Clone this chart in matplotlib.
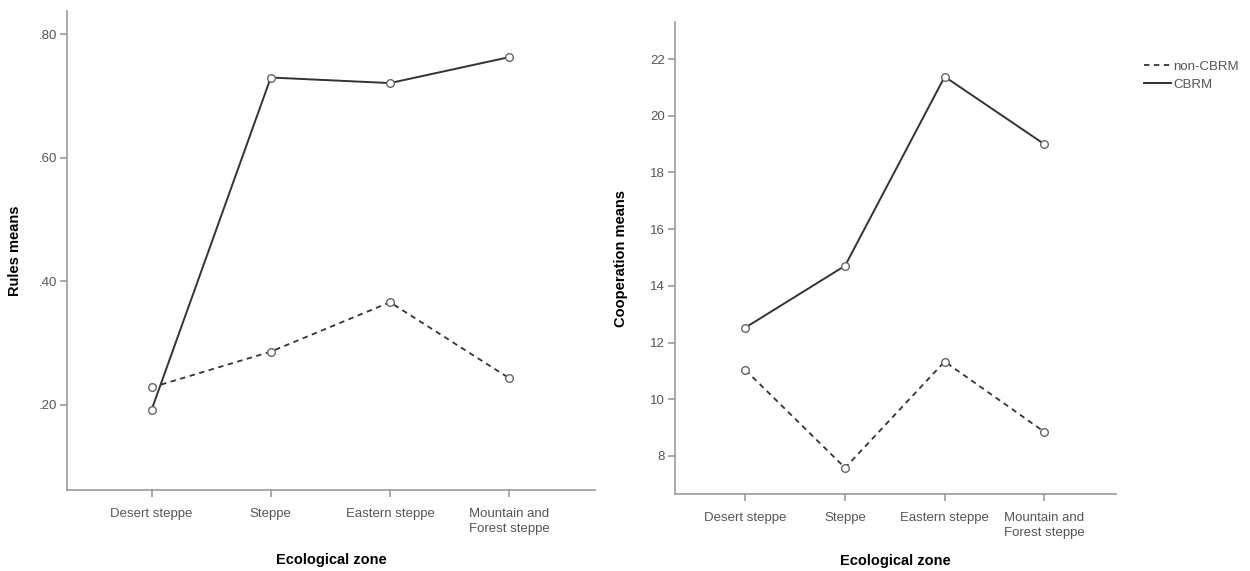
import matplotlib
matplotlib.use("Agg")
import matplotlib.pyplot as plt

# categories and values
zones = ["Desert steppe", "Steppe", "Eastern steppe", "Mountain and\nForest steppe"]
rules_cbrm = [0.192, 0.730, 0.721, 0.763]
rules_non = [0.228, 0.286, 0.366, 0.243]
coop_cbrm = [12.53, 14.71, 21.38, 19.00]
coop_non = [11.03, 7.58, 11.33, 8.85]

rules_ticks = [0.20, 0.40, 0.60, 0.80]
rules_ticklabels = [".20", ".40", ".60", ".80"]
coop_ticks = [8, 10, 12, 14, 16, 18, 20, 22]

plt.rcParams['font.family'] = ['Liberation Sans', 'DejaVu Sans']

fig = plt.figure(figsize=(12.5, 5.71), dpi=100)
ax1 = fig.add_axes([0.0536, 0.142, 0.4224, 0.839])
ax2 = fig.add_axes([0.5398, 0.135, 0.353, 0.826])

line_col = "#333333"
axis_col = "#999999"
x = list(range(len(zones)))


def style(ax, lpad):
    for s in ["top", "right"]:
        ax.spines[s].set_visible(False)
    for s in ["left", "bottom"]:
        ax.spines[s].set_color(axis_col)
        ax.spines[s].set_linewidth(1.2)
    ax.tick_params(axis="both", colors=axis_col, labelcolor="#555555",
                   labelsize=9.5, length=5, width=1.2)
    ax.tick_params(axis="x", pad=8)
    ax.tick_params(axis="y", pad=2)
    ax.set_xticks(x)
    ax.set_xticklabels(zones, linespacing=1.3)
    ax.set_xlim(-0.71, 3.72)
    ax.set_xlabel("Ecological zone", fontsize=10.5, fontweight="bold",
                  labelpad=lpad)


def draw(ax, cbrm, non):
    ax.plot(x, non, color=line_col, lw=1.3, ls=(0, (3, 2.5)), marker="o",
            ms=5.5, mfc="white", mec="#666666", mew=1.0, label="non-CBRM")
    ax.plot(x, cbrm, color=line_col, lw=1.4, ls="-", marker="o",
            ms=5.5, mfc="white", mec="#666666", mew=1.0, label="CBRM")


draw(ax1, rules_cbrm, rules_non)
style(ax1, 13)
ax1.set_ylim(0.062, 0.838)
ax1.set_yticks(rules_ticks)
ax1.set_yticklabels(rules_ticklabels)
ax1.set_ylabel("Rules means", fontsize=10.5, fontweight="bold", labelpad=12)

draw(ax2, coop_cbrm, coop_non)
style(ax2, 11)
ax2.set_ylim(6.66, 23.3)
ax2.set_yticks(coop_ticks)
ax2.set_ylabel("Cooperation means", fontsize=10.5, fontweight="bold", labelpad=16)

handles, labels = ax2.get_legend_handles_labels()
leg = fig.legend(handles, labels, loc="upper left",
                 bbox_to_anchor=(0.906, 0.915), frameon=False, fontsize=9.5,
                 handlelength=2.0, handletextpad=0.2, labelspacing=0.45)
for h in leg.legend_handles:
    h.set_marker("")
for t in leg.get_texts():
    t.set_color("#555555")

fig.savefig("out.png", dpi=100)
